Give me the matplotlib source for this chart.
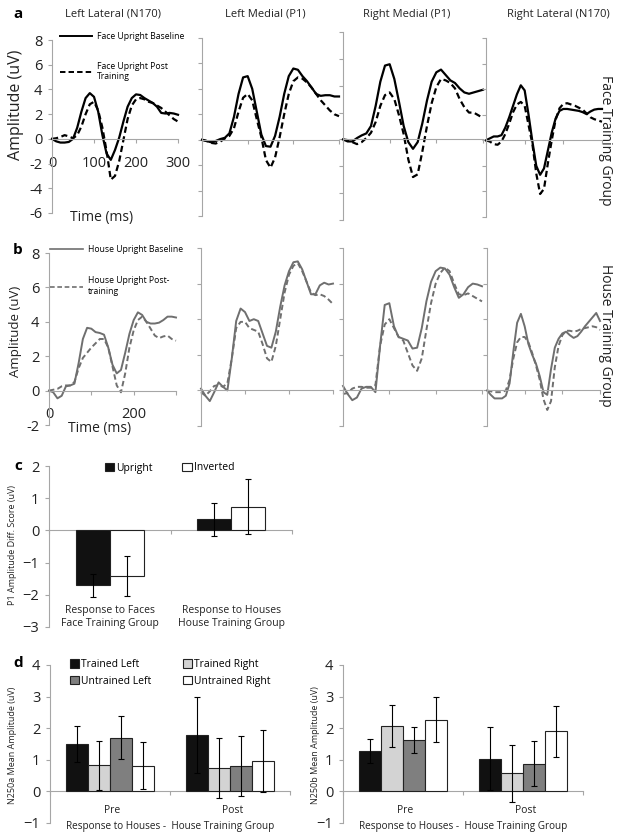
import matplotlib.pyplot as plt
from matplotlib.patches import Patch
from matplotlib.lines import Line2D

plt.rcParams['font.family'] = ['Open Sans', 'DejaVu Sans']

# ---------------- data ----------------
times = list(range(0, 301, 10))  # ms
sites = ['Left Lateral (N170)', 'Left Medial (P1)', 'Right Medial (P1)', 'Right Lateral (N170)']

# panel a: face training group, face upright (baseline / post training)
face_ll_base = [0, -0.2, -0.3, -0.3, -0.25, 0.0, 0.9, 2.2, 3.3, 3.7, 3.4, 2.2, 0.3, -1.2, -1.7, -0.9,
                0.1, 1.4, 2.6, 3.3, 3.6, 3.55, 3.3, 3.1, 2.9, 2.6, 2.1, 2.05, 2.1, 2.05, 1.95]
face_ll_post = [0, 0.05, 0.15, 0.3, 0.2, 0.05, 0.3, 1.0, 2.0, 2.8, 3.0, 2.3, 0.9, -1.0, -3.3, -3.0,
                -1.8, -0.1, 1.6, 2.7, 3.2, 3.3, 3.2, 3.0, 2.9, 2.7, 2.5, 2.2, 1.9, 1.6, 1.4]
face_lm_base = [0, -0.1, -0.2, -0.1, 0.05, 0.15, 0.5, 1.8, 3.6, 4.9, 5.0, 4.0, 2.2, 0.4, -0.5, -0.55,
                0.3, 1.8, 3.6, 5.0, 5.6, 5.5, 5.0, 4.6, 4.1, 3.6, 3.45, 3.5, 3.5, 3.4, 3.4]
face_lm_post = [0, -0.1, -0.25, -0.3, -0.15, 0.1, 0.3, 0.9, 2.2, 3.3, 3.6, 3.1, 1.6, 0.2, -1.6, -2.2,
                -1.4, 0.2, 2.0, 3.6, 4.6, 4.9, 4.8, 4.5, 4.1, 3.6, 3.1, 2.7, 2.3, 2.0, 1.85]
face_rm_base = [0, -0.15, -0.15, 0.1, 0.3, 0.45, 1.0, 2.5, 4.3, 5.5, 5.6, 4.5, 2.8, 1.0, -0.2, -0.7,
                -0.2, 1.2, 2.9, 4.3, 5.0, 5.2, 4.8, 4.4, 4.2, 3.8, 3.5, 3.4, 3.5, 3.6, 3.7]
face_rm_post = [0, -0.05, -0.2, -0.35, -0.2, 0.1, 0.5, 1.3, 2.5, 3.3, 3.5, 3.0, 1.8, 0.4, -1.5, -2.8,
                -2.6, -0.9, 1.0, 2.7, 3.9, 4.5, 4.4, 4.2, 3.8, 3.0, 2.4, 2.0, 2.0, 1.8, 1.6]
face_rl_base = [0, 0.15, 0.3, 0.3, 0.4, 1.0, 1.8, 2.7, 3.6, 4.3, 3.9, 2.0, -0.1, -2.0, -2.7, -2.2,
                -0.8, 0.6, 1.7, 2.3, 2.45, 2.45, 2.4, 2.35, 2.3, 2.2, 2.05, 2.25, 2.4, 2.45, 2.45]
face_rl_post = [0, -0.1, -0.3, -0.35, -0.1, 0.5, 1.3, 2.2, 2.8, 3.0, 2.7, 1.2, -0.3, -2.6, -4.2, -3.8,
                -1.8, 0.0, 1.6, 2.5, 2.85, 2.9, 2.8, 2.7, 2.55, 2.4, 2.1, 1.8, 1.65, 1.55, 1.45]

# panel b: house training group, house upright (baseline / post training)
house_ll_base = [0, -0.1, -0.45, -0.3, 0.25, 0.3, 0.4, 1.6, 3.0, 3.65, 3.6, 3.4, 3.35, 3.25, 2.5, 1.5,
                 1.0, 1.2, 2.2, 3.3, 4.1, 4.55, 4.4, 4.0, 3.9, 3.9, 3.95, 4.1, 4.3, 4.3, 4.25]
house_ll_post = [0, 0.05, 0.1, 0.25, 0.3, 0.3, 0.5, 1.3, 1.9, 2.2, 2.5, 2.75, 3.0, 3.0, 2.5, 1.4,
                 0.3, -0.1, 1.0, 2.5, 3.5, 4.1, 4.3, 4.0, 3.6, 3.2, 3.05, 3.15, 3.2, 3.0, 2.9]
house_lm_base = [0.1, -0.3, -0.6, -0.1, 0.45, 0.2, 0.0, 1.8, 3.9, 4.6, 4.4, 3.9, 4.0, 3.9, 3.2, 2.5,
                 2.4, 3.3, 4.7, 5.9, 6.7, 7.2, 7.25, 6.8, 6.1, 5.4, 5.4, 5.9, 6.05, 5.95, 6.0]
house_lm_post = [-0.1, -0.3, -0.05, 0.25, 0.3, 0.2, 0.4, 1.8, 3.5, 3.85, 3.85, 3.5, 3.4, 3.3, 2.6, 1.8,
                 1.6, 2.5, 4.0, 5.5, 6.5, 7.0, 7.15, 6.7, 6.1, 5.5, 5.35, 5.4, 5.3, 5.1, 4.85]
house_rm_base = [0.25, -0.2, -0.55, -0.4, 0.1, 0.2, 0.2, -0.1, 2.5, 4.8, 4.9, 3.6, 3.0, 2.9, 2.8, 2.35,
                 2.4, 3.5, 5.0, 6.1, 6.7, 6.9, 6.85, 6.5, 5.8, 5.2, 5.4, 5.8, 6.0, 5.95, 5.85]
house_rm_post = [-0.2, -0.15, 0.1, 0.2, 0.2, 0.15, 0.15, 0.3, 2.5, 3.7, 4.0, 3.5, 3.0, 2.8, 2.1, 1.4,
                 1.1, 1.8, 3.4, 4.9, 6.0, 6.6, 6.9, 6.7, 6.0, 5.4, 5.35, 5.45, 5.3, 5.15, 5.0]
house_rl_base = [0, -0.25, -0.45, -0.45, -0.45, -0.3, 0.4, 2.2, 3.8, 4.3, 3.6, 2.6, 2.0, 1.5, 0.8, -0.1,
                 -0.25, 1.2, 2.4, 2.9, 3.2, 3.3, 3.1, 2.95, 3.05, 3.3, 3.6, 3.85, 4.1, 4.35, 3.9]
house_rl_post = [0, -0.05, -0.1, -0.1, -0.1, 0.0, 0.6, 1.8, 2.7, 3.0, 3.0, 2.7, 2.1, 1.4, 0.6, -0.5,
                 -1.1, -0.6, 1.3, 2.5, 3.1, 3.35, 3.35, 3.3, 3.35, 3.45, 3.5, 3.55, 3.6, 3.55, 3.4]

# panel c: P1 amplitude difference scores
c_groups = ['Response to Faces\nFace Training Group', 'Response to Houses\nHouse Training Group']
c_upright = [-1.70, 0.34]
c_upright_err = [0.36, 0.52]
c_inverted = [-1.41, 0.74]
c_inverted_err = [0.63, 0.86]

# panel d: N250a / N250b mean amplitude, pre vs post
d_sessions = ['Pre', 'Post']
d_conditions = ['Trained Left', 'Trained Right', 'Untrained Left', 'Untrained Right']
n250a_means = [[1.50, 1.78], [0.82, 0.75], [1.70, 0.79], [0.81, 0.96]]
n250a_errs = [[0.56, 1.21], [0.79, 0.95], [0.69, 0.95], [0.74, 0.97]]
n250b_means = [[1.29, 1.04], [2.08, 0.57], [1.64, 0.88], [2.27, 1.90]]
n250b_errs = [[0.38, 1.00], [0.66, 0.91], [0.41, 0.72], [0.72, 0.80]]

# ---------------- figure ----------------
W, H = 624, 839
fig = plt.figure(figsize=(W / 100, H / 100), dpi=100)
gray = '#a6a6a6'
txt = '#222222'


def px_axes(x0, x1, y0, y1):
    return fig.add_axes([x0 / W, 1 - y1 / H, (x1 - x0) / W, (y1 - y0) / H])


def base_style(ax):
    for s in ['top', 'right']:
        ax.spines[s].set_visible(False)
    ax.spines['left'].set_color(gray)
    ax.spines['bottom'].set_color(gray)
    ax.spines['bottom'].set_position(('data', 0))
    ax.tick_params(color=gray, length=3, width=0.8, direction='out', labelcolor=txt)
    ax.patch.set_alpha(0)


def wave_panel(boxes, base, post, color, ylim, yticks, xlabels, lw):
    axes = []
    for i, box in enumerate(boxes):
        ax = px_axes(*box)
        ax.plot(times, base[i], color=color, lw=lw, clip_on=False)
        ax.plot(times, post[i], color=color, lw=lw, ls=(0, (2.8, 1.6)), clip_on=False)
        ax.set_xlim(0, 300)
        ax.set_ylim(*ylim)
        base_style(ax)
        ax.set_xticks([0, 100, 200, 300])
        ax.set_yticks(yticks)
        if i == 0:
            ax.set_xticklabels(xlabels, fontsize=10.5)
            ax.set_yticklabels([str(v) for v in yticks], fontsize=10.5)
            ax.tick_params(axis='x', pad=9)
            ax.tick_params(axis='y', pad=4)
        else:
            ax.set_xticklabels([])
            ax.set_yticklabels([])
        axes.append(ax)
    return axes


# panel a
a_boxes = [(52, 178, 40, 213), (202, 339, 38, 216), (343, 483, 32, 220), (486, 602, 38, 217)]
axa = wave_panel(a_boxes,
                 [face_ll_base, face_lm_base, face_rm_base, face_rl_base],
                 [face_ll_post, face_lm_post, face_rm_post, face_rl_post],
                 'black', (-6, 8), list(range(-6, 9, 2)), ['0', '100', '200', '300'], 1.6)
axa[0].legend(handles=[Line2D([], [], color='black', lw=1.4),
                       Line2D([], [], color='black', lw=1.4, ls=(0, (2.8, 1.6)))],
              labels=['Face Upright Baseline', 'Face Upright Post\nTraining'],
              loc='upper left', bbox_to_anchor=(60 / W, 1 - 32 / H), bbox_transform=fig.transFigure,
              frameon=False, fontsize=6.2, handlelength=3.7, handletextpad=0.6,
              labelspacing=2.4, borderpad=0, borderaxespad=0)

# panel b
b_boxes = [(49, 176, 253, 425), (201, 333, 248, 426), (343, 482, 248, 426), (487, 600, 248, 426)]
axb = wave_panel(b_boxes,
                 [house_ll_base, house_lm_base, house_rm_base, house_rl_base],
                 [house_ll_post, house_lm_post, house_rm_post, house_rl_post],
                 '#6f6f6f', (-2, 8), list(range(-2, 9, 2)), ['0', '', '200', ''], 1.4)
axb[0].legend(handles=[Line2D([], [], color='#6f6f6f', lw=1.2),
                       Line2D([], [], color='#6f6f6f', lw=1.2, ls=(0, (2.8, 1.6)))],
              labels=['House Upright Baseline', 'House Upright Post-\ntraining'],
              loc='upper left', bbox_to_anchor=(50 / W, 1 - 245 / H), bbox_transform=fig.transFigure,
              frameon=False, fontsize=6.2, handlelength=3.8, handletextpad=0.6,
              labelspacing=2.6, borderpad=0, borderaxespad=0)

# panel a/b text
for x, name in zip([113, 265, 407, 558], sites):
    fig.text(x / W, 1 - 14 / H, name, ha='center', va='center', fontsize=8, color=txt)
fig.text(605 / W, 1 - 140 / H, 'Face Training Group', rotation=270, ha='center', va='center',
         fontsize=10, color=txt)
fig.text(605 / W, 1 - 335 / H, 'House Training Group', rotation=270, ha='center', va='center',
         fontsize=10, color=txt)
fig.text(16 / W, 1 - 105 / H, 'Amplitude (uV)', rotation=90, ha='center', va='center',
         fontsize=11.5, color=txt)
fig.text(16 / W, 1 - 331 / H, 'Amplitude (uV)', rotation=90, ha='center', va='center',
         fontsize=9.5, color=txt)
fig.text(102 / W, 1 - 217 / H, 'Time (ms)', ha='center', va='center', fontsize=10, color=txt)
fig.text(100 / W, 1 - 428 / H, 'Time (ms)', ha='center', va='center', fontsize=10, color=txt)
for lab, y in zip('abcd', [14, 250, 466, 663]):
    fig.text(18 / W, 1 - y / H, lab, ha='center', va='center', fontsize=11, fontweight='bold')

# panel c
bar_edge = '#222222'
err_kw = dict(ecolor='black', elinewidth=0.8, capsize=2.5, capthick=0.8)
axc = px_axes(49, 292, 466, 627)
xs = list(range(len(c_groups)))
bw = 0.28
axc.bar([x - bw / 2 for x in xs], c_upright, bw, yerr=c_upright_err, color='#111111',
        edgecolor=bar_edge, lw=0.8, error_kw=err_kw, zorder=3, label='Upright')
axc.bar([x + bw / 2 for x in xs], c_inverted, bw, yerr=c_inverted_err, color='white',
        edgecolor=bar_edge, lw=0.8, error_kw=err_kw, zorder=3, label='Inverted')
axc.set_xlim(-0.5, 1.5)
axc.set_ylim(-3, 2)
base_style(axc)
axc.set_xticks([-0.5, 0.5, 1.5])
axc.set_xticklabels([])
axc.set_yticks(range(-3, 3))
axc.tick_params(axis='y', labelsize=10.5, pad=4)
for x, g in zip(xs, c_groups):
    axc.text(x, -2.7, g, ha='center', va='center', fontsize=7.5, color=txt, linespacing=1.25)
axc.set_ylabel('P1 Amplitude Diff. Score (uV)', fontsize=6.5, color=txt)
axc.yaxis.set_label_coords(17 / W, 1 - 545 / H, transform=fig.transFigure)
axc.legend(handles=[Patch(facecolor='#111111', edgecolor=bar_edge, lw=0.8),
                    Patch(facecolor='white', edgecolor=bar_edge, lw=0.8)],
           labels=['Upright', 'Inverted'], ncol=2, loc='center left',
           bbox_to_anchor=(105 / W, 1 - 468 / H), bbox_transform=fig.transFigure,
           frameon=False, fontsize=7.5, handlelength=0.9, handleheight=0.9, handletextpad=0.2,
           columnspacing=2.8, borderpad=0, borderaxespad=0)

# panel d
d_colors = ['#111111', '#d3d3d3', '#7f7f7f', 'white']
dw = 0.183


def d_panel(box, means, errs, ylabel, ylab_x):
    ax = px_axes(*box)
    for k in range(len(d_conditions)):
        pos = [x + (k - 1.5) * dw for x in range(len(d_sessions))]
        ax.bar(pos, means[k], dw, yerr=errs[k], color=d_colors[k], edgecolor=bar_edge, lw=0.8,
               error_kw=err_kw, zorder=3, label=d_conditions[k])
    ax.set_xlim(-0.5, 1.5)
    ax.set_ylim(-1, 4)
    base_style(ax)
    ax.set_xticks([-0.5, 0.5, 1.5])
    ax.set_xticklabels([])
    ax.set_yticks(range(-1, 5))
    ax.tick_params(axis='y', labelsize=10.5, pad=4)
    for x, s in enumerate(d_sessions):
        ax.text(x + 0.02, -0.62, s, ha='center', va='center', fontsize=7.5, color=txt)
    ax.text(0.5, -1.1, 'Response to Houses -  House Training Group', ha='center', va='center',
            fontsize=7.2, color=txt, clip_on=False)
    ax.set_ylabel(ylabel, fontsize=6.5, color=txt)
    ax.yaxis.set_label_coords(ylab_x / W, 1 - 745 / H, transform=fig.transFigure)
    return ax


axd1 = d_panel((50, 290, 665, 823), n250a_means, n250a_errs, 'N250a Mean Amplitude (uV)', 17)
axd2 = d_panel((343, 583, 665, 823), n250b_means, n250b_errs, 'N250b Mean Amplitude (uV)', 320)
d_handles = [Patch(facecolor=c, edgecolor=bar_edge, lw=0.8) for c in d_colors]
order = [0, 2, 1, 3]
axd1.legend(handles=[d_handles[i] for i in order], labels=[d_conditions[i] for i in order],
            ncol=2, loc='upper left', bbox_to_anchor=(70 / W, 1 - 659 / H),
            bbox_transform=fig.transFigure, frameon=False, fontsize=7.5, handlelength=0.9,
            handleheight=0.9, handletextpad=0.2, columnspacing=3.0, labelspacing=0.55,
            borderpad=0, borderaxespad=0)

fig.savefig('out.png', dpi=100)
